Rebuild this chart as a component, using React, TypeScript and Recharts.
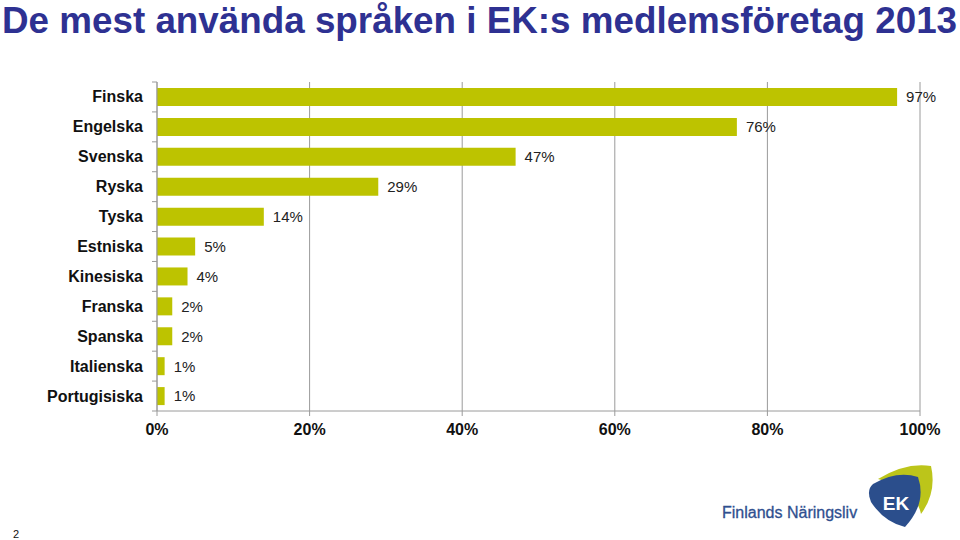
// Språkdiagram: horisontella staplar, en färg, värdeetiketter till höger.
import { Bar, BarChart, CartesianGrid, LabelList, XAxis, YAxis } from 'recharts';

const TITLE = 'De mest använda språken i EK:s medlemsföretag 2013';
const LANGUAGES = [
  'Finska',
  'Engelska',
  'Svenska',
  'Ryska',
  'Tyska',
  'Estniska',
  'Kinesiska',
  'Franska',
  'Spanska',
  'Italienska',
  'Portugisiska',
];
const SHARES = [97, 76, 47, 29, 14, 5, 4, 2, 2, 1, 1];
const X_TICKS = [0, 20, 40, 60, 80, 100];

const BAR = '#BDC300';
const AXIS = '#9A9A9A';
const TITLE_BLUE = '#2E3192';
const FONT = '"Liberation Sans", Arial, Helvetica, sans-serif';

const PLOT_TOP = 82;
const PLOT_BOTTOM = 411;
const BAND = (PLOT_BOTTOM - PLOT_TOP) / LANGUAGES.length;

const data = LANGUAGES.map((name, i) => ({ name, value: SHARES[i] }));

interface TickProps {
  x?: number;
  y?: number;
  payload?: { value: string };
}
// kategorietikett + tickstreck på bandgränsen (inte i mitten)
function LangTick({ x = 0, y = 0, payload }: TickProps) {
  const idx = LANGUAGES.indexOf(payload?.value ?? '');
  const last = idx === LANGUAGES.length - 1;
  return (
    <g>
      <line x1={x + 9} x2={x + 14} y1={y - BAND / 2} y2={y - BAND / 2} stroke={AXIS} />
      {last ? <line x1={x + 9} x2={x + 14} y1={y + BAND / 2} y2={y + BAND / 2} stroke={AXIS} /> : null}
      <text x={x} y={y} dy={5.5} textAnchor="end" fontSize={16} fontWeight="bold" fill="#111">
        {payload?.value}
      </text>
    </g>
  );
}

function Logo() {
  return (
    <svg width={960} height={540} style={{ position: 'absolute', left: 0, top: 0 }}>
      <text x={2} y={33} fontSize={36.8} fontWeight="bold" fill={TITLE_BLUE}>
        {TITLE}
      </text>
      <text x={13} y={538} fontSize={11} fill="#111">
        2
      </text>
      <text x={722} y={518} fontSize={16} fill="#2F4F8F" stroke="#2F4F8F" strokeWidth={0.3}>
        Finlands Näringsliv
      </text>
      <path d="M 878 479 Q 906 462 931 466 Q 937 492 921 514 Q 916 489 878 479 Z" fill="#BCC51A" />
      <path
        d="M 873 484 Q 897 470 918 477 Q 927 503 905 527 Q 884 522 871 502 Q 866 490 873 484 Z"
        fill="#2B4E8C"
      />
      <text x={896} y={510} textAnchor="middle" fontSize={19} fontWeight="bold" fill="#fff">
        EK
      </text>
    </svg>
  );
}

export default function App() {
  return (
    <div
      style={{
        position: 'absolute',
        left: 0,
        top: 0,
        width: 960,
        height: 540,
        background: '#fff',
        fontFamily: FONT,
      }}
    >
      <div style={{ position: 'absolute', left: 0, top: 0 }}>
        <BarChart
          width={960}
          height={450}
          data={data}
          layout="vertical"
          margin={{ top: PLOT_TOP, right: 40, bottom: 9, left: 0 }}
          barSize={18}
        >
          <CartesianGrid horizontal={false} stroke={AXIS} />
          <XAxis
            type="number"
            domain={[0, 100]}
            ticks={X_TICKS}
            tickFormatter={(v: number) => `${v}%`}
            height={30}
            stroke={AXIS}
            tickSize={5}
            tickMargin={8}
            tick={{ fill: '#111', fontSize: 16, fontWeight: 'bold' }}
            interval={0}
          />
          <YAxis
            type="category"
            dataKey="name"
            width={157}
            stroke={AXIS}
            tickLine={false}
            tickSize={0}
            tickMargin={14}
            tick={<LangTick />}
            interval={0}
          />
          <Bar dataKey="value" fill={BAR} isAnimationActive={false}>
            <LabelList
              dataKey="value"
              position="right"
              offset={9}
              fill="#222"
              fontSize={15}
              formatter={(v: unknown) => `${v}%`}
            />
          </Bar>
        </BarChart>
      </div>
      <Logo />
    </div>
  );
}
